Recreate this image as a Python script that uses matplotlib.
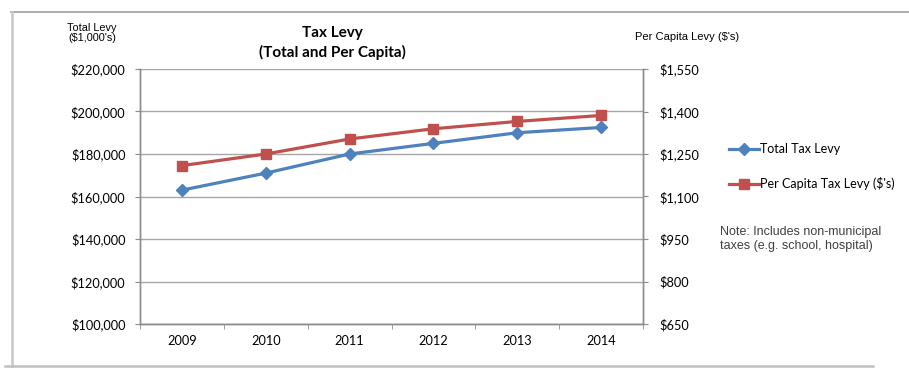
import matplotlib
matplotlib.use('Agg')
import matplotlib.pyplot as plt
from matplotlib.lines import Line2D
from matplotlib.ticker import FuncFormatter, FixedLocator

years = ['2009', '2010', '2011', '2012', '2013', '2014']
total_levy = [163000, 171000, 180000, 185000, 190000, 192500]   # $1,000's
per_capita = [1209, 1250, 1303, 1339, 1365, 1386]               # $'s

blue = '#4F81BD'
red = '#C0504D'
grid_c = '#A6A6A6'
axis_c = '#8C8C8C'
calibri = ['Lato', 'DejaVu Sans']
arial = ['Liberation Sans', 'DejaVu Sans']

W, H = 909, 368
fig = plt.figure(figsize=(W / 100, H / 100), dpi=100)
ax = fig.add_axes([140 / W, (H - 324) / H, 503 / W, 255 / H])
ax2 = ax.twinx()

x = list(range(len(years)))
ax.plot(x, total_levy, color=blue, lw=2.3, marker='D', ms=6.5, zorder=3)
ax2.plot(x, per_capita, color=red, lw=2.3, marker='s', ms=7.5, zorder=3)

ax.set_xlim(-0.5, 5.5)
ax.set_ylim(100000, 220000)
ax.set_yticks(range(100000, 220001, 20000))
ax2.set_ylim(650, 1550)
ax2.set_yticks(range(650, 1551, 150))

ax.yaxis.set_major_formatter(FuncFormatter(lambda v, p: '${:,.0f}'.format(v)))
ax2.yaxis.set_major_formatter(FuncFormatter(lambda v, p: '${:,.0f}'.format(v)))

ax.set_xticks(x)
ax.set_xticklabels(years)
ax.xaxis.set_minor_locator(FixedLocator([i - 0.5 for i in range(len(years) + 1)]))
ax.tick_params(axis='x', which='major', length=0, pad=8)
ax.tick_params(axis='x', which='minor', length=3.5, color=axis_c, direction='out')
ax.tick_params(axis='y', length=3.5, color=axis_c, pad=7)
ax2.tick_params(axis='y', length=3.5, color=axis_c, pad=8.5)

for a in (ax, ax2):
    for lab in a.get_xticklabels() + a.get_yticklabels():
        lab.set_family(calibri)
        lab.set_fontsize(9.2)
        lab.set_color('#000000')
    a.spines['top'].set_visible(False)
    for s in ('left', 'right', 'bottom'):
        a.spines[s].set_color(axis_c)
        a.spines[s].set_linewidth(1)

ax.grid(axis='y', color=grid_c, lw=1)
ax.set_axisbelow(True)

# titles
fig.text(332 / W, 1 - 33 / H, 'Tax Levy', ha='center', va='center',
         family=calibri, fontsize=11, fontweight='bold')
fig.text(332 / W, 1 - 52 / H, '(Total and Per Capita)', ha='center', va='center',
         family=calibri, fontsize=11, fontweight='bold')
fig.text(92 / W, 1 - 33 / H, "Total Levy\n($1,000's)", ha='center', va='center',
         family=arial, fontsize=7.8, linespacing=0.95)
fig.text(635 / W, 1 - 37 / H, "Per Capita Levy ($'s)", ha='left', va='center',
         family=arial, fontsize=8)

# legend
handles = [Line2D([], [], color=blue, lw=2.3, marker='D', ms=6),
           Line2D([], [], color=red, lw=2.3, marker='s', ms=7)]
fig.legend(handles, ['Total Tax Levy', "Per Capita Tax Levy ($'s)"],
           loc='upper left', bbox_to_anchor=(718 / W, 1 - 132 / H),
           frameon=False, prop={'family': calibri, 'size': 9},
           handlelength=2.4, handletextpad=0.1, labelspacing=1.75)

fig.text(720 / W, 1 - 239 / H, 'Note: Includes non-municipal\ntaxes (e.g. school, hospital)',
         ha='left', va='center', family=arial, fontsize=9, color='#404040',
         linespacing=1.15)

# outer frame
fig.add_artist(Line2D([11 / W, 1], [1 - 12 / H, 1 - 12 / H], color='#A0A0A0', lw=1.2))
fig.add_artist(Line2D([12 / W, 12 / W], [1 - 12 / H, 0], color='#C8C8C8', lw=1.8))
fig.add_artist(Line2D([5 / W, 873 / W], [1 - 366 / H, 1 - 366 / H], color='#C0C0C0', lw=1.8))

fig.savefig('out.png', dpi=100)
